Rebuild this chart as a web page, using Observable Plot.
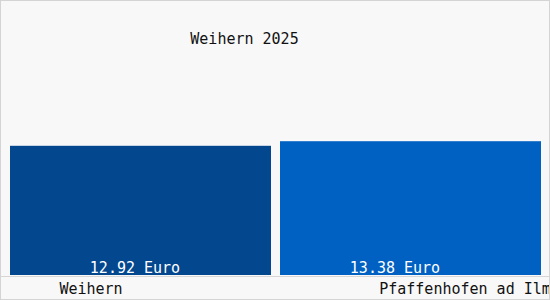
<!DOCTYPE html>
<html>
<head>
<meta charset="utf-8">
<script src="https://cdn.jsdelivr.net/npm/d3@7"></script>
<script src="https://cdn.jsdelivr.net/npm/@observablehq/plot@0.6"></script>
<style>
  html, body { margin: 0; padding: 0; background: #ffffff; }
  #wrap { width: 550px; height: 300px; box-sizing: border-box; border: 1px solid #d4d4d4; background: #f8f8f8; overflow: hidden; }
  #wrap svg { display: block; }
</style>
</head>
<body>
<div id="wrap"></div>
<script>
const title = "Weihern 2025";
const categories = ["Weihern", "Pfaffenhofen ad Ilm"];
const values = [12.92, 13.38];
const unit = "Euro";
const barColors = ["#03478f", "#0061c3"];
const labelOffsets = [-50, 55];

const data = categories.map((c, i) => ({cat: c, value: values[i], label: values[i].toFixed(2) + " " + unit, off: labelOffsets[i]}));
const font = "DejaVu Sans Mono, monospace";

const chart = Plot.plot({
  width: 548,
  height: 298,
  marginTop: 0,
  marginBottom: 24,
  marginLeft: 0,
  marginRight: 0,
  style: {background: "#f8f8f8", fontFamily: font, fontSize: "15px", overflow: "visible"},
  x: {type: "band", domain: categories, range: [9, 540], paddingInner: 9 / 270, paddingOuter: 0, axis: null},
  y: {domain: [0, 27.4], axis: null},
  color: {domain: categories, range: barColors},
  marks: [
    Plot.barY(data, {x: "cat", y: "value", fill: "cat"}),
    Plot.ruleY([0], {stroke: "#d6d6d6", dy: 1}),
    Plot.text(data.filter((d, i) => i === 0), {x: "cat", y: 0, text: "label", fill: "white", dy: -7, dx: -6, lineAnchor: "middle", fontSize: 15}),
    Plot.text(data.filter((d, i) => i === 1), {x: "cat", y: 0, text: "label", fill: "white", dy: -7, dx: -16, lineAnchor: "middle", fontSize: 15}),
    Plot.text(data.filter((d, i) => i === 0), {x: "cat", y: 0, text: "cat", fill: "#111", dy: 14, dx: -50, lineAnchor: "middle", fontSize: 15}),
    Plot.text(data.filter((d, i) => i === 1), {x: "cat", y: 0, text: "cat", fill: "#111", dy: 14, dx: 54, lineAnchor: "middle", fontSize: 15}),
    Plot.text([title], {frameAnchor: "top", text: d => d, dx: -31, dy: 38, lineAnchor: "middle", fill: "#111", fontSize: 15})
  ]
});
document.getElementById("wrap").appendChild(chart);
</script>
</body>
</html>
